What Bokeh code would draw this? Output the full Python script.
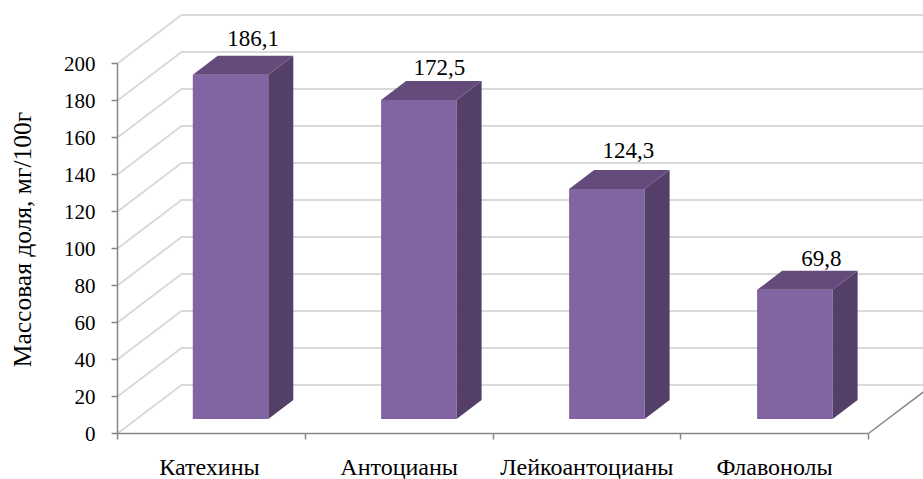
from math import pi
from bokeh.plotting import figure
from bokeh.models import Range1d, FixedTicker, LinearAxis
from bokeh.core.properties import value
from bokeh.embed import file_html
from bokeh.resources import INLINE

categories = ["Катехины", "Антоцианы", "Лейкоантоцианы", "Флавонолы"]
values = [186.1, 172.5, 124.3, 69.8]
y_ticks = [0, 20, 40, 60, 80, 100, 120, 140, 160, 180, 200]
y_title = "Массовая доля, мг/100г"

W, H = 923, 479
LEFT, BOTTOM = 117, 46
PX_X = 187.75   # pixels per category
PX_Y = 1.85     # pixels per unit of value
FONT = "Liberation Serif"

def dx(px):
    return px / PX_X

def dy(px):
    return px / PX_Y

p = figure(width=W, height=H, output_backend="svg", toolbar_location=None,
           x_range=Range1d(dx(-LEFT), dx(W - LEFT)),
           y_range=Range1d(dy(-BOTTOM), dy(H - BOTTOM)),
           x_axis_type=None, y_axis_type=None,
           min_border_left=0, min_border_bottom=0, min_border_right=0, min_border_top=0,
           outline_line_color=None, background_fill_color="white", border_fill_color="white")
p.grid.visible = False

# Walls: each gridline runs from the front axis to the back wall and on to the right.
WALL_DX, WALL_DY = dx(64), dy(48.5)
xs_end = dx(W - LEFT)
p.multi_line([[0, WALL_DX, xs_end] for _ in y_ticks],
             [[t, t + WALL_DY, t + WALL_DY] for t in y_ticks],
             line_color="#d9d9d9", line_width=2)
# Floor's right edge
p.line([4, 4 + WALL_DX], [0, WALL_DY], line_color="#868686", line_width=1.5)

# Bars
BAR_START = [dx(75.3), dx(263.6), dx(451.6), dx(639.6)]
BAR_W = dx(75.5)
BASE = dy(14.5)
D_X, D_Y = dx(25), dy(19)
for x0, v in zip(BAR_START, values):
    x1 = x0 + BAR_W
    top = BASE + v
    p.patch([x0, x1, x1, x0], [BASE, BASE, top, top], fill_color="#8164a2", line_color=None)
    p.patch([x1, x1 + D_X, x1 + D_X, x1], [BASE, BASE + D_Y, top + D_Y, top],
            fill_color="#533f68", line_color=None)
    p.patch([x0, x1, x1 + D_X, x0 + D_X], [top, top, top + D_Y, top + D_Y],
            fill_color="#644b7c", line_color=None)

# Data labels
LABEL_SHIFT_X = [10, 8, 9, 14]
LABEL_SHIFT_Y = [17, 13, 19.5, 12]
p.text([x0 + BAR_W / 2 + D_X / 2 + dx(s) for x0, s in zip(BAR_START, LABEL_SHIFT_X)],
       [BASE + v + D_Y + dy(s) for v, s in zip(values, LABEL_SHIFT_Y)],
       text=[f"{v:.1f}".replace(".", ",") for v in values],
       text_font=value(FONT), text_font_size="23px", text_color="#000000",
       text_align="center", text_baseline="middle")

# Y axis
ya = LinearAxis(fixed_location=0, ticker=FixedTicker(ticks=y_ticks), bounds=(0, 200))
ya.axis_line_color = "#868686"
ya.axis_line_width = 1.5
ya.major_tick_line_color = "#868686"
ya.major_tick_line_width = 1.5
ya.major_tick_out = 6
ya.major_tick_in = 0
ya.minor_tick_out = 0
ya.minor_tick_in = 0
ya.major_label_standoff = 16
ya.major_label_text_font = FONT
ya.major_label_text_font_size = "21px"
ya.major_label_text_color = "#000000"
p.add_layout(ya, "left")

# X axis: separators as minor ticks, category names as labelled ticks
CAT_POS = [0.49, 1.5, 2.5, 3.5]
xa = LinearAxis(fixed_location=0, ticker=FixedTicker(ticks=CAT_POS, minor_ticks=[0, 1, 2, 3, 4]),
                bounds=(0, 4))
xa.major_label_overrides = dict(zip(CAT_POS, categories))
xa.axis_line_color = "#868686"
xa.axis_line_width = 1.5
xa.major_tick_in = 0
xa.major_tick_out = 0
xa.minor_tick_in = 0
xa.minor_tick_out = 6
xa.minor_tick_line_color = "#868686"
xa.minor_tick_line_width = 1.5
xa.major_label_standoff = 14
xa.major_label_text_font = FONT
xa.major_label_text_font_size = "24px"
xa.major_label_text_color = "#000000"
p.add_layout(xa, "below")

# Y title
p.text([dx(21.5 - LEFT)], [dy(433 - 239)], text=[y_title], angle=pi / 2,
       text_font=value(FONT), text_font_size="25.5px", text_color="#000000",
       text_align="center", text_baseline="middle")

open("out.html", "w").write(file_html(p, INLINE))
